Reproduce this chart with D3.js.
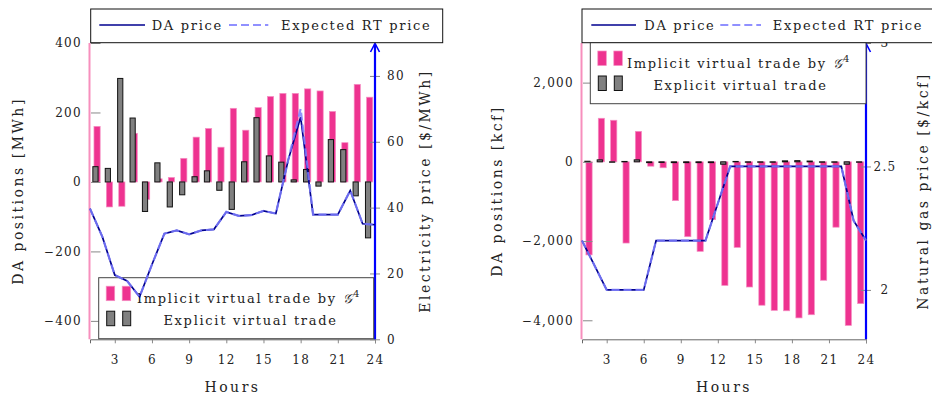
<!DOCTYPE html>
<html>
<head>
<meta charset="utf-8">
<script src="https://cdn.jsdelivr.net/npm/d3@7"></script>
<style>
  body { margin: 0; background: #fff; }
  svg text { font-family: "DejaVu Serif", serif; fill: #222; }
</style>
</head>
<body>
<script>
// hours of the day (lines) and hourly bars (1..23)
const hours = [1, 2, 3, 4, 5, 6, 7, 8, 9, 10, 11, 12, 13, 14, 15, 16, 17, 18, 19, 20, 21, 22, 23, 24];
const barHours = [1, 2, 3, 4, 5, 6, 7, 8, 9, 10, 11, 12, 13, 14, 15, 16, 17, 18, 19, 20, 21, 22, 23];
const hourTicks = [3, 6, 9, 12, 15, 18, 21, 24];

// electricity panel
const elecDA = [39.7, 31.1, 19.5, 17.7, 12.9, 22.7, 32.1, 33.1, 31.9, 33.1, 33.4, 38.7, 37.5, 37.7, 39.0, 38.2, 54.5, 67.5, 37.9, 37.9, 37.9, 45.2, 35.1, 34.8];
const elecRT = [39.7, 31.1, 19.5, 17.7, 12.9, 22.7, 32.1, 33.1, 31.9, 33.1, 33.4, 38.7, 37.5, 37.7, 39.0, 38.2, 54.5, 70.0, 37.9, 37.9, 37.9, 45.2, 35.1, 34.8];
const elecImplicit = [160, -72, -70, 140, -50, 9, 13, 68, 129, 154, 100, 212, 149, 214, 246, 255, 255, 268, 262, 203, 113, 281, 244];
const elecExplicit = [44, 39, 298, 184, -85, 55, -72, -37, 15, 32, -24, -79, 58, 185, 75, 57, 6, 36, -12, 122, 93, -40, -161];
const elecLeftTicks = [-400, -200, 0, 200, 400];
const elecRightTicks = [0, 20, 40, 60, 80];

// natural gas panel
const gasDA = [2.2, 2.1, 2.0, 2.0, 2.0, 2.0, 2.2, 2.2, 2.2, 2.2, 2.2, 2.35, 2.5, 2.5, 2.5, 2.5, 2.5, 2.5, 2.5, 2.5, 2.5, 2.5, 2.28, 2.2];
const gasRT = [2.2, 2.1, 2.0, 2.0, 2.0, 2.0, 2.2, 2.2, 2.2, 2.2, 2.2, 2.35, 2.5, 2.5, 2.5, 2.5, 2.5, 2.5, 2.5, 2.5, 2.5, 2.5, 2.28, 2.2];
const gasImplicit = [-2350, 1100, 1050, -2050, 770, -110, -150, -980, -1890, -2260, -1460, -3120, -2160, -3160, -3620, -3750, -3760, -3940, -3860, -2990, -1650, -4130, -3580];
const gasExplicit = [15, 50, -10, 10, 50, -20, -15, -20, -20, -20, -20, -60, 10, -10, -10, -10, 25, 30, 20, -10, -10, -60, -10];
const gasLeftTicks = [-4000, -2000, 0, 2000];
const gasRightTicks = [2, 2.5, 3];

const pink = "#ee3390", pinkEdge = "#f58fc3";
const navy = "#00008f", lightBlue = "rgba(125,125,255,0.85)";

const svg = d3.select("body").append("svg")
  .attr("width", 932)
  .attr("height", 399);

const plotTop = 43, plotBottom = 339.3;

function panel(o) {
  const x = d3.scaleLinear().domain([1, 24]).range([o.left, o.right]);
  const yL = d3.scaleLinear().domain(o.leftDomain).range([plotBottom, plotTop]);
  const yR = d3.scaleLinear().domain(o.rightDomain).range([plotBottom, plotTop]);
  const g = svg.append("g");
  const bw = 6.2;

  // bars: implicit behind, explicit on top
  g.selectAll(".imp").data(o.implicit).enter().append("rect")
    .attr("x", (d, i) => x(barHours[i] + 0.57) - bw / 2)
    .attr("y", d => yL(Math.max(0, d)))
    .attr("width", bw)
    .attr("height", d => Math.abs(yL(d) - yL(0)))
    .attr("fill", pink).attr("stroke", pinkEdge).attr("stroke-width", 0.7);

  g.selectAll(".exp").data(o.explicit).enter().append("rect")
    .attr("x", (d, i) => x(barHours[i] + 0.44) - bw / 2 + 0.5)
    .attr("y", d => yL(Math.max(0, d)))
    .attr("width", bw - 1)
    .attr("height", d => Math.abs(yL(d) - yL(0)))
    .attr("fill", "#808080").attr("stroke", "#111").attr("stroke-width", 1);

  // bottom axis
  const ax = g.append("g").attr("transform", `translate(0,${plotBottom})`)
    .call(d3.axisBottom(x).tickValues(hourTicks).tickSize(4).tickPadding(12));
  ax.select(".domain").attr("stroke", "#666");
  ax.selectAll("line").attr("stroke", "#888");
  ax.selectAll("text").style("font-size", "12px").style("letter-spacing", "1.3px");

  // left axis
  const al = g.append("g").attr("transform", `translate(${o.left},0)`)
    .call(d3.axisLeft(yL).tickValues(o.leftTicks).tickSize(-9.5).tickPadding(8).tickFormat(d3.format(",")));
  al.select(".domain").remove();
  al.selectAll("line").attr("stroke", "#888").attr("transform", "translate(1,0)");
  al.selectAll("text").style("font-size", "12px").style("letter-spacing", "1.3px");
  g.append("line").attr("x1", o.left - 0.5).attr("x2", o.left - 0.5)
    .attr("y1", plotTop).attr("y2", plotBottom)
    .attr("stroke", "#f78fbd").attr("stroke-width", 2);

  // right axis
  const ar = g.append("g").attr("transform", `translate(${o.right},0)`)
    .call(d3.axisRight(yR).tickValues(o.rightTicks).tickSize(5).tickPadding(o.rightPad).tickFormat(o.rightFormat));
  ar.select(".domain").remove();
  ar.selectAll("line").attr("x1", -5).attr("stroke", "#888");
  ar.selectAll("text").style("font-size", "12px").style("letter-spacing", "1.3px")
    .attr("text-anchor", o.rightAnchor);
  g.append("line").attr("x1", o.right).attr("x2", o.right)
    .attr("y1", plotTop + 1).attr("y2", plotBottom)
    .attr("stroke", "#0000ff").attr("stroke-width", 2.2);
  g.append("path")
    .attr("d", `M${o.right - 4.5},${plotTop + 9} L${o.right},${plotTop + 0.5} L${o.right + 4.5},${plotTop + 9}`)
    .attr("fill", "none").attr("stroke", "#0000ff").attr("stroke-width", 1.6);

  // axis titles
  g.append("text").attr("x", (o.left + o.right) / 2).attr("y", 392)
    .attr("text-anchor", "middle").style("font-size", "14px").style("letter-spacing", "2.5px")
    .text("Hours");
  g.append("text").attr("transform", `translate(${o.leftLabelX},191) rotate(-90)`)
    .attr("text-anchor", "middle").style("font-size", "14px").style("letter-spacing", "2.5px")
    .text(o.leftLabel);
  g.append("text").attr("transform", `translate(${o.rightLabelX},191) rotate(-90)`)
    .attr("text-anchor", "middle").style("font-size", "14px").style("letter-spacing", "2.5px")
    .text(o.rightLabel);

  // bar legend
  function barLegend() {
    const b = o.barLegend;
    g.append("rect").attr("x", b.x).attr("y", b.y).attr("width", b.w).attr("height", b.h)
      .attr("fill", "#fff").attr("stroke", "#444").attr("stroke-width", 1);
    [0, 1].forEach(k => {
      g.append("rect").attr("x", b.x + 7.5 + k * 16).attr("y", b.y + 8.5).attr("width", 8.5).attr("height", 14.5)
        .attr("fill", pink).attr("stroke", pinkEdge).attr("stroke-width", 0.7);
      g.append("rect").attr("x", b.x + 8 + k * 16).attr("y", b.y + 33.5).attr("width", 8).attr("height", 14.5)
        .attr("fill", "#808080").attr("stroke", "#111").attr("stroke-width", 1);
    });
    const t1 = g.append("text").attr("x", b.tx).attr("y", b.y + 25).attr("text-anchor", "middle")
      .style("font-size", "13px").style("letter-spacing", "1.7px");
    t1.append("tspan").text("Implicit virtual trade by ");
    t1.append("tspan").style("font-style", "italic").text("𝒢");
    t1.append("tspan").attr("dy", -6).style("font-size", "9.5px").text("4");
    g.append("text").attr("x", b.tx + 1.5).attr("y", b.y + 47.5).attr("text-anchor", "middle")
      .style("font-size", "13px").style("letter-spacing", "1.7px")
      .text("Explicit virtual trade");
  }

  if (o.barLegendFirst) barLegend();

  // price lines
  const line = d3.line().x((d, i) => x(hours[i])).y(d => yR(d));
  g.append("path").datum(o.da).attr("d", line)
    .attr("fill", "none").attr("stroke", navy).attr("stroke-width", 1.7);
  g.append("path").datum(o.rt).attr("d", line)
    .attr("fill", "none").attr("stroke", lightBlue).attr("stroke-width", 2.2)
    .attr("stroke-dasharray", "8,4");

  if (!o.barLegendFirst) barLegend();

  // price legend on top
  const L = o.lineLegend;
  g.append("rect").attr("x", L.x).attr("y", 9).attr("width", L.w).attr("height", 33.7)
    .attr("fill", "#fff").attr("stroke", "#111").attr("stroke-width", 1);
  g.append("line").attr("x1", L.l1[0]).attr("x2", L.l1[1]).attr("y1", 25).attr("y2", 25)
    .attr("stroke", navy).attr("stroke-width", 1.7);
  g.append("text").attr("x", L.t1).attr("y", 29.5).style("font-size", "13px").style("letter-spacing", "1.7px")
    .text("DA price");
  g.append("line").attr("x1", L.l2[0]).attr("x2", L.l2[1]).attr("y1", 25).attr("y2", 25)
    .attr("stroke", lightBlue).attr("stroke-width", 2.2).attr("stroke-dasharray", "8,4");
  g.append("text").attr("x", L.t2).attr("y", 29.5).style("font-size", "13px").style("letter-spacing", "1.7px")
    .text("Expected RT price");
}

panel({
  left: 90, right: 375,
  leftDomain: [-453, 400], rightDomain: [0, 90],
  leftTicks: elecLeftTicks, rightTicks: elecRightTicks,
  rightPad: 7, rightAnchor: "start", rightFormat: d3.format("d"),
  implicit: elecImplicit, explicit: elecExplicit, da: elecDA, rt: elecRT,
  leftLabel: "DA positions [MWh]", leftLabelX: 22.7,
  rightLabel: "Electricity price [$/MWh]", rightLabelX: 430,
  barLegendFirst: true,
  barLegend: { x: 98.7, y: 277.7, w: 275, h: 61, tx: 249 },
  lineLegend: { x: 90.7, w: 352, l1: [99.3, 145], t1: 151.7, l2: [229, 268.3], t2: 281 }
});

panel({
  left: 582, right: 866,
  leftDomain: [-4480, 3000], rightDomain: [1.8, 3],
  leftTicks: gasLeftTicks, rightTicks: gasRightTicks,
  rightPad: 14, rightAnchor: "middle", rightFormat: d => String(d),
  implicit: gasImplicit, explicit: gasExplicit, da: gasDA, rt: gasRT,
  leftLabel: "DA positions [kcf]", leftLabelX: 502,
  rightLabel: "Natural gas price [$/kcf]", rightLabelX: 927.7,
  barLegendFirst: false,
  barLegend: { x: 590.3, y: 42.5, w: 275.7, h: 61.2, tx: 739 },
  lineLegend: { x: 582, w: 360, l1: [591.3, 636], t1: 644.3, l2: [720.3, 761], t2: 772.7 }
});
</script>
</body>
</html>
